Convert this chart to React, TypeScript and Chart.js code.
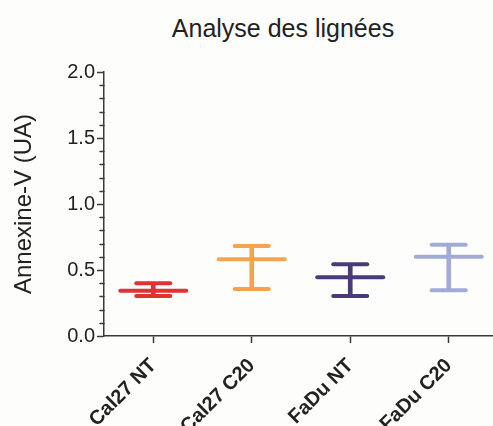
import React, { useEffect, useRef } from "react";
import { Chart, registerables } from "chart.js";

Chart.register(...registerables);

const categories = ["Cal27 NT", "Cal27 C20", "FaDu NT", "FaDu C20"];
const means = [0.343, 0.581, 0.445, 0.601];
const uppers = [0.399, 0.682, 0.543, 0.692];
const lowers = [0.303, 0.356, 0.303, 0.346];
const colors = ["#e03232", "#f5a44c", "#4a3b78", "#a2abd8"];
const yTicks = [0, 0.5, 1.0, 1.5, 2.0];
const minorTicks = [0.1, 0.2, 0.3, 0.4, 0.6, 0.7, 0.8, 0.9, 1.1, 1.2, 1.3, 1.4, 1.6, 1.7, 1.8, 1.9];

const FONT = "'Liberation Sans', Arial, sans-serif";
const AXIS = "#3a3a3a";

const minorTickPlugin = {
  id: "minorTicks",
  afterDraw(chart: any) {
    const y = chart.scales.y;
    const ctx = chart.ctx;
    ctx.save();
    ctx.strokeStyle = AXIS;
    ctx.lineWidth = 1.5;
    const x0 = chart.chartArea.left;
    ctx.beginPath();
    minorTicks.forEach((v) => {
      const py = Math.round(y.getPixelForValue(v)) + 0.5;
      ctx.moveTo(x0 - 4, py);
      ctx.lineTo(x0, py);
    });
    ctx.stroke();
    ctx.restore();
  },
  beforeDatasetsDraw(chart: any) {
    chart.ctx.lineCap = "round";
  },
};

export default function App() {
  const ref = useRef<HTMLCanvasElement | null>(null);
  useEffect(() => {
    const chart = new Chart(ref.current!, {
      type: "bar",
      data: {
        labels: categories,
        datasets: [
          {
            type: "bar",
            data: lowers.map((l, i) => [l, uppers[i]]) as any,
            backgroundColor: colors,
            borderWidth: 0,
            barThickness: 4,
          },
          {
            type: "line",
            data: means,
            showLine: false,
            pointStyle: "line",
            pointRadius: 33,
            pointBorderWidth: 4,
            pointBorderColor: colors,
            pointBackgroundColor: colors,
          } as any,
          {
            type: "line",
            data: uppers,
            showLine: false,
            pointStyle: "line",
            pointRadius: 17,
            pointBorderWidth: 4,
            pointBorderColor: colors,
            pointBackgroundColor: colors,
          } as any,
          {
            type: "line",
            data: lowers,
            showLine: false,
            pointStyle: "line",
            pointRadius: 17,
            pointBorderWidth: 4,
            pointBorderColor: colors,
            pointBackgroundColor: colors,
          } as any,
        ],
      },
      options: {
        responsive: false,
        animation: false,
        layout: { padding: { top: 72, right: 16, left: 0, bottom: 0 } },
        plugins: {
          legend: { display: false },
          title: { display: false },
          tooltip: { enabled: false },
        },
        scales: {
          x: {
            offset: true,
            grid: {
              display: true,
              drawOnChartArea: false,
              drawTicks: true,
              offset: false,
              tickLength: 7,
              tickColor: AXIS,
              tickWidth: 1.5,
            },
            border: { display: true, color: AXIS, width: 1.5 },
            ticks: {
              minRotation: 45,
              maxRotation: 45,
              padding: 11,
              color: "#222",
              font: { family: FONT, size: 20, weight: "bold" },
            },
            afterFit: (s: any) => {
              s.height = 90;
              s.paddingLeft = 0;
              s.paddingRight = 0;
            },
          },
          y: {
            min: 0,
            max: 2,
            afterBuildTicks: (s: any) => {
              s.ticks = yTicks.map((v) => ({ value: v }));
            },
            grid: {
              display: true,
              drawOnChartArea: false,
              drawTicks: true,
              tickLength: 7,
              tickColor: AXIS,
              tickWidth: 1.5,
            },
            border: { display: true, color: AXIS, width: 1.5 },
            ticks: {
              padding: 2,
              color: "#222",
              font: { family: FONT, size: 20 },
              callback: (v: any) => Number(v).toFixed(1),
            },
            title: {
              display: true,
              text: "Annexine-V (UA)",
              color: "#222",
              font: { family: FONT, size: 24 },
              padding: { top: 10, bottom: 0 },
            },
            afterFit: (s: any) => {
              s.width = 104;
            },
          },
        },
      },
      plugins: [minorTickPlugin],
    });
    return () => chart.destroy();
  }, []);

  return (
    <div
      style={{
        position: "fixed",
        left: 0,
        top: 0,
        width: 493,
        height: 426,
        overflow: "hidden",
        background: "#fdfdfb",
      }}
    >
      <div
        style={{
          position: "absolute",
          left: 0,
          width: 566,
          top: 13,
          textAlign: "center",
          fontFamily: FONT,
          fontSize: 25,
          color: "#222",
          lineHeight: "30px",
        }}
      >
        Analyse des lignées
      </div>
      <canvas ref={ref} width={535} height={426} style={{ position: "absolute", left: 0, top: 0 }} />
    </div>
  );
}
